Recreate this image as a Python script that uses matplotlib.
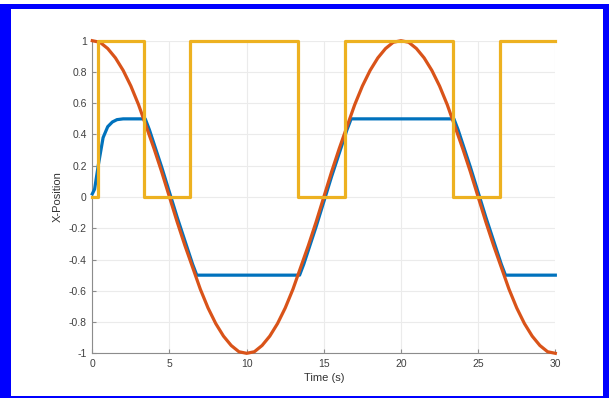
import matplotlib
matplotlib.use('Agg')
import matplotlib.pyplot as plt
from matplotlib.patches import Rectangle

t_ref = [i * 0.5 for i in range(61)]
x_ref = [1.00, 0.99, 0.95, 0.89, 0.81, 0.71, 0.59, 0.45, 0.31, 0.16,
         0.00, -0.16, -0.31, -0.45, -0.59, -0.71, -0.81, -0.89, -0.95, -0.99,
         -1.00, -0.99, -0.95, -0.89, -0.81, -0.71, -0.59, -0.45, -0.31, -0.16,
         0.00, 0.16, 0.31, 0.45, 0.59, 0.71, 0.81, 0.89, 0.95, 0.99,
         1.00, 0.99, 0.95, 0.89, 0.81, 0.71, 0.59, 0.45, 0.31, 0.16,
         0.00, -0.16, -0.31, -0.45, -0.59, -0.71, -0.81, -0.89, -0.95, -0.99,
         -1.00]

# Gemeten positie (blauw), verzadigd op +/-0.5
t_pos = [0.0, 0.15, 0.4, 0.7, 1.0, 1.3, 1.6, 2.0, 3.43, 3.7, 4.0, 4.5, 5.0, 5.5,
         6.0, 6.5, 6.77, 13.43, 13.7, 14.0, 14.5, 15.0, 15.5, 16.0, 16.5, 16.77,
         23.43, 23.7, 24.0, 24.5, 25.0, 25.5, 26.0, 26.5, 26.77, 30.0]
x_pos = [0.02, 0.05, 0.21, 0.38, 0.45, 0.48, 0.495, 0.50, 0.50, 0.43, 0.34, 0.19,
         0.03, -0.13, -0.28, -0.43, -0.50, -0.50, -0.43, -0.34, -0.19, -0.03,
         0.13, 0.28, 0.43, 0.50, 0.50, 0.43, 0.34, 0.19, 0.03, -0.13, -0.28,
         -0.43, -0.50, -0.50]

# Verzadigingsvlag (geel), schakelmomenten
t_sat = [0.0, 0.4, 3.35, 6.35, 13.35, 16.4, 23.4, 26.4, 30.0]
v_sat = [0, 1, 0, 1, 0, 1, 0, 1, 1]

x_ticks = [0, 5, 10, 15, 20, 25, 30]
y_ticks = [-1, -0.8, -0.6, -0.4, -0.2, 0, 0.2, 0.4, 0.6, 0.8, 1]
y_labels = ['-1', '-0.8', '-0.6', '-0.4', '-0.2', '0', '0.2', '0.4', '0.6', '0.8', '1']

plt.rcParams['font.family'] = ['Liberation Sans', 'DejaVu Sans']

fig = plt.figure(figsize=(6.12, 3.98), dpi=100)
ax = fig.add_axes([0.1508, 0.1123, 0.7566, 0.7854])

ax.plot(t_pos, x_pos, color='#0072BD', lw=2.3, clip_on=False, zorder=3)
ax.plot(t_ref, x_ref, color='#D95319', lw=2.3, clip_on=False, zorder=4)
ax.plot(t_sat, v_sat, color='#EDB120', lw=2.3, drawstyle='steps-post',
        clip_on=False, zorder=5)

ax.set_xlim(0, 30)
ax.set_ylim(-1, 1)
ax.set_xticks(x_ticks)
ax.set_yticks(y_ticks)
ax.set_yticklabels(y_labels)
ax.grid(True, color='#ebebeb', lw=0.8)
ax.set_axisbelow(True)

for s in ['top', 'right']:
    ax.spines[s].set_visible(False)
for s in ['left', 'bottom']:
    ax.spines[s].set_color('#8c8c8c')
    ax.spines[s].set_linewidth(0.8)
ax.tick_params(direction='in', length=3, width=0.8, color='#8c8c8c',
               labelsize=7.5, labelcolor='#404040', pad=4)

ax.set_xlabel('Time (s)', fontsize=8, color='#333333', labelpad=3)
ax.set_ylabel('X-Position', fontsize=8, color='#333333', labelpad=4)

# Blauwe rand rond de figuur
W, H = 612.0, 398.0
def band(x0, y0, x1, y1):
    fig.add_artist(Rectangle((x0 / W, 1 - y1 / H), (x1 - x0) / W, (y1 - y0) / H,
                             transform=fig.transFigure, color='#0000ff', lw=0))

band(0, 4, 609, 9)
band(0, 4, 11, 398)
band(603, 4, 609, 398)
band(0, 395.5, 609, 398)

plt.savefig('out.png', dpi=100)
